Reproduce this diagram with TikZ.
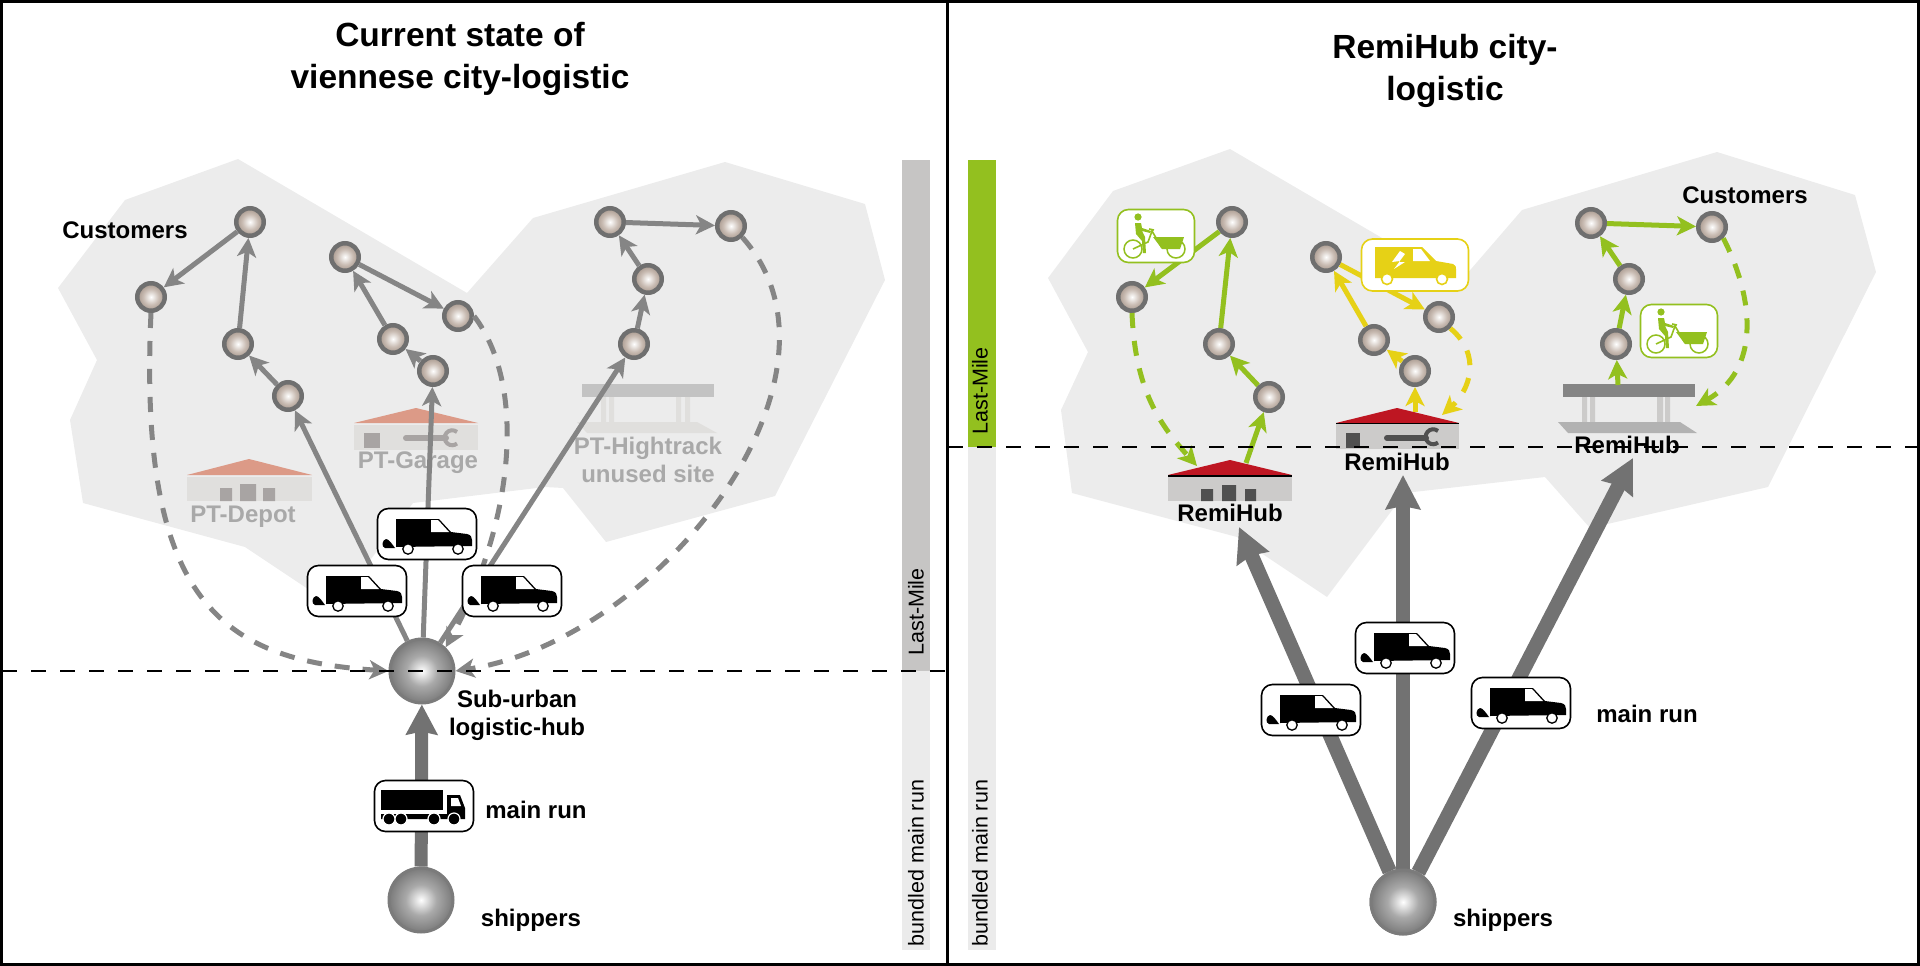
\documentclass[tikz,border=0pt]{standalone}
\usepackage{fontspec}
\setmainfont{Liberation Sans}
\usetikzlibrary{arrows.meta}
\definecolor{ballgrey}{HTML}{7B7B7B}
\definecolor{custtan}{HTML}{B8A79B}
\definecolor{ringgrey}{HTML}{6F6F6F}
\definecolor{arrowgrey}{HTML}{858585}
\definecolor{mainrun}{HTML}{727272}
\definecolor{blobgrey}{HTML}{ECECEC}
\definecolor{barlight}{HTML}{EBEBEB}
\definecolor{bardark}{HTML}{C6C5C4}
\definecolor{remigreen}{HTML}{93C01F}
\definecolor{remiyellow}{HTML}{E6D116}
\definecolor{roofred}{HTML}{BE1622}
\definecolor{rooffade}{HTML}{DC9A87}
\definecolor{wallfade}{HTML}{E0DFDD}
\definecolor{itemfade}{HTML}{A8A4A3}
\definecolor{textfade}{HTML}{A9A9A9}
\definecolor{wallgrey}{HTML}{CCCBCA}
\definecolor{itemgrey}{HTML}{505050}
\pgfdeclareradialshading{hubshade}{\pgfpoint{0bp}{0bp}}{color(0bp)=(white); color(12bp)=(ballgrey!65!white); color(25bp)=(ballgrey); color(50bp)=(ballgrey)}
\pgfdeclareradialshading{custshade}{\pgfpoint{0bp}{0bp}}{color(0bp)=(white); color(14bp)=(custtan!75!white); color(25bp)=(custtan!90!black); color(50bp)=(custtan)}
\tikzset{
  hub/.style={circle, minimum size=64pt, inner sep=0pt, shading=hubshade, draw=ballgrey, line width=3pt},
  cust/.style={circle, minimum size=27.5pt, inner sep=0pt, shading=custshade, draw=ringgrey, line width=4.5pt},
  label/.style={font=\fontsize{24}{28}\selectfont\bfseries, align=center, inner sep=0pt},
  fadelabel/.style={label, text=textfade},
  titlelabel/.style={font=\fontsize{33.5}{41.5}\selectfont\bfseries, align=center, inner sep=0pt},
  barlabel/.style={font=\fontsize{21.5}{24}\selectfont, rotate=90, inner sep=0pt},
  iconbox/.style={draw=black, fill=white, rounded corners=11pt, line width=1.6pt, minimum width=99pt, minimum height=51pt, inner sep=0pt},
  thin arrow/.style={-{Stealth[length=19pt,width=19pt,inset=5pt]}, line width=5pt, color=#1},
  route/.style={-{Stealth[length=19pt,width=19pt,inset=5pt]}, line width=5pt, dash pattern=on 15pt off 13pt, color=#1},
  big arrow/.style={-{Stealth[length=34pt,width=34pt,inset=3pt]}, line width=14.5pt, color=mainrun},
  cut/.style={line width=2.2pt, dash pattern=on 15pt off 14pt},
  pics/vanicon/.style={code={
    \fill (-31,-15) -- (12,-15) -- (24,-2) -- (40,0) .. controls (44,1) and (45,3) .. (45,6) -- (45,12) -- (-31,13) -- cycle;
    \fill[white] (4,-14) -- (11,-14) -- (22,-2) -- (4,-2) -- cycle;
    \fill (-32,14) -- (-42,14) .. controls (-46,13) and (-45,6) .. (-41,5) .. controls (-38,5) and (-35,10) .. cycle;
    \draw[fill=white, line width=1.3pt] (-19,15) circle (5.2pt) (31,15) circle (5.2pt);
  }},
  pics/truckicon/.style={code={
    \fill (-43,-16) rectangle (19,4);
    \fill (23,-11) -- (36,-11) -- (41,2) -- (41,13) -- (-43,13) -- (-43,8) -- (23,8) -- cycle;
    \fill[white] (27,-8) -- (34,-8) -- (37,0) -- (27,0) -- cycle;
    \draw[fill=black, line width=1.2pt, draw=white] (-35,13) circle (6pt) (-23,13) circle (6pt) (10,13) circle (6pt) (30,13) circle (6pt);
  }},
  pics/bikeicon/.style={code={
    \fill (-18,-19) circle (3.6pt);
    \fill (-21,-13) -- (-15,-13) -- (-14,-8) -- (-5,-5) -- (-6,-3) -- (-14,-5) -- (-11,1) -- (-10,17) -- (-13,17) -- (-14,5) -- (-20,-2) -- cycle;
    \draw[line width=1.5pt, draw=.] (-23,13) circle (9pt) (20,13) circle (9pt);
    \fill (-3,1) -- (28,1) -- (24,13) -- (6,13) -- cycle;
    \draw[line width=1.6pt] (-23,13) -- (-8,6) -- (-4,-5) -- (6,12) (-7,-7) -- (-2,-6);
  }},
  pics/evanicon/.style={code={
    \fill (-40,-18) -- (7,-18) -- (21,-4) -- (38,-1) .. controls (41,0) and (41,2) .. (41,4) -- (41,13) -- (-40,13) -- cycle;
    \fill[white] (-2,-16) -- (6,-16) -- (15,-4) -- (-2,-4) -- cycle;
    \fill[white] (-15,-14) -- (-23,-3) -- (-15,-4) -- (-21,4) -- (-10,-3) -- (-16,-3) -- (-10,-11) -- cycle;
    \draw[fill=white, line width=1.6pt, draw=.] (-28,14) circle (5.5pt) (27,14) circle (5.5pt);
  }}
}
\begin{document}
\begin{tikzpicture}[x=1pt, y=-1pt]
  \useasboundingbox (0,0) rectangle (1920,966);

  \fill[blobgrey] (238,159) -- (125,200) -- (58,288) -- (97,360) -- (70,420) -- (83,503) -- (245,547) -- (335,607) -- (413,503) -- (545,487) -- (563,488) -- (606,542) -- (775,496) -- (885,280) -- (865,204) -- (725,162) -- (533,218) -- (467,293) -- cycle;
  \fill[blobgrey] (1230,149) -- (1113,191) -- (1048,278) -- (1088,352) -- (1061,410) -- (1072,493) -- (1237,537) -- (1327,597) -- (1405,493) -- (1545,477) -- (1590,528) -- (1768,487) -- (1876,272) -- (1855,195) -- (1717,152) -- (1522,210) -- (1459,283) -- cycle;

  \fill[bardark] (902,160) rectangle (930,671);
  \fill[barlight] (902,671) rectangle (930,950);
  \fill[remigreen] (968,160) rectangle (996,447);
  \fill[barlight] (968,447) rectangle (996,950);
  \node[barlabel] (lastL) at (916,612) {Last-Mile};
  \node[barlabel] (bundL) at (916,863) {bundled main run};
  \node[barlabel] (lastR) at (980,391) {Last-Mile};
  \node[barlabel] (bundR) at (980,863) {bundled main run};

  \node[titlelabel] (titleL) at (460,59) {Current state of\\viennese city-logistic};
  \node[titlelabel] (titleR) at (1445,71) {RemiHub city-\\logistic};

  \fill[wallfade] (187,477) rectangle (312,501);
  \fill[rooffade] (187,475) -- (249,459) -- (312,475) -- cycle;
  \fill[itemfade] (220,488) rectangle (232,501) (240,484) rectangle (256,501) (263,488) rectangle (275,501);
  \node[fadelabel] (depotL) at (243,517) {PT-Depot};

  \fill[wallfade] (354,425) rectangle (478,450);
  \fill[rooffade] (354,423) -- (416,408) -- (478,423) -- cycle;
  \fill[itemfade] (364,433) rectangle (380,448);
  \draw[itemfade, line width=6pt, line cap=round] (406,438) -- (446,438);
  \draw[itemfade, line width=4pt] (457,432) arc (50:310:7.5pt);
  \node[fadelabel] (garageL) at (418,463) {PT-Garage};

  \fill[textfade!70!white] (582,384) rectangle (714,397);
  \fill[wallfade] (601,397) rectangle (606,422) (609,397) rectangle (614,422) (676,397) rectangle (681,422) (685,397) rectangle (690,422);
  \fill[wallfade] (577,422) -- (697,422) -- (717,433) -- (587,433) -- cycle;
  \node[fadelabel] (siteL) at (648,460) {PT-Hightrack\\unused site};

  \fill[wallgrey] (1168,477) rectangle (1292,501);
  \fill[roofred] (1168,475) -- (1230,460) -- (1292,475) -- cycle;
  \draw[black, line width=1.4pt] (1168,476) -- (1292,476);
  \fill[itemgrey] (1201,489) rectangle (1213,501) (1222,485) rectangle (1236,501) (1245,489) rectangle (1256,501);
  \node[label] (hubA) at (1230,513) {RemiHub};

  \fill[wallgrey] (1336,424) rectangle (1459,449);
  \fill[roofred] (1336,423) -- (1397,408) -- (1459,423) -- cycle;
  \draw[black, line width=1.4pt] (1336,423.5) -- (1459,423.5);
  \fill[itemgrey] (1346,433) rectangle (1360,448);
  \draw[itemgrey, line width=6pt, line cap=round] (1387,438) -- (1426,438);
  \draw[itemgrey, line width=4pt] (1438,431) arc (50:310:7.5pt);
  \node[label] (hubB) at (1397,462) {RemiHub};

  \fill[arrowgrey] (1563,384) rectangle (1695,397);
  \fill[wallgrey] (1582,397) rectangle (1587,427) (1590,397) rectangle (1595,427) (1657,397) rectangle (1663,427) (1665,397) rectangle (1670,427);
  \fill[gray!60] (1558,422) -- (1680,422) -- (1697,433) -- (1568,433) -- cycle;
  \node[label] (hubC) at (1627,445) {RemiHub};

  \node[hub] (hub) at (422,671) {};
  \node[hub] (shipL) at (421,900) {};
  \node[cust] (c1) at (250,222) {};
  \node[cust] (c2) at (151,297) {};
  \node[cust] (c3) at (238,344) {};
  \node[cust] (c4) at (288,396) {};
  \node[cust] (c5) at (345,257) {};
  \node[cust] (c6) at (458,316) {};
  \node[cust] (c7) at (393,339) {};
  \node[cust] (c8) at (433,371) {};
  \node[cust] (c9) at (634,344) {};
  \node[cust] (c10) at (648,279) {};
  \node[cust] (c11) at (610,222) {};
  \node[cust] (c12) at (731,226) {};

  \draw[thin arrow=arrowgrey] (c1) -- (c2);
  \draw[thin arrow=arrowgrey] (c3) -- (c1);
  \draw[thin arrow=arrowgrey] (c4) -- (c3);
  \draw[thin arrow=arrowgrey] (c5) -- (c6);
  \draw[thin arrow=arrowgrey] (c7) -- (c5);
  \draw[thin arrow=arrowgrey] (c8) -- (c7);
  \draw[thin arrow=arrowgrey] (c9) -- (c10);
  \draw[thin arrow=arrowgrey] (c10) -- (c11);
  \draw[thin arrow=arrowgrey] (c11) -- (c12);
  \draw[thin arrow=arrowgrey] (hub) -- (c4);
  \draw[thin arrow=arrowgrey] (hub) -- (c8);
  \draw[thin arrow=arrowgrey] (hub) -- (c9);
  \draw[route=arrowgrey] (c2.south) .. controls (138,600) and (220,660) .. (hub.west);
  \draw[route=arrowgrey] (c6.east) .. controls (530,390) and (510,530) .. (hub.north east);
  \draw[route=arrowgrey] (c12.south east) .. controls (865,375) and (660,640) .. (hub.east);
  \draw[big arrow, -{Stealth[length=30pt,width=31pt,inset=3pt]}, line width=13pt] (shipL) -- (hub);

  \node[iconbox] (vanA) at (357,591) {};
  \pic at (vanA) {vanicon};
  \node[iconbox] (vanB) at (427,534) {};
  \pic at (vanB) {vanicon};
  \node[iconbox] (vanC) at (512,591) {};
  \pic at (vanC) {vanicon};
  \node[iconbox] (truck) at (424,806) {};
  \pic at (truck) {truckicon};

  \node[label] (custL) at (125,230) {Customers};
  \node[label] (subhub) at (517,715) {Sub-urban\\logistic-hub};
  \node[label] (runL) at (536,810) {main run};
  \node[label] (shipperL) at (531,920) {shippers};

  \node[hub] (shipR) at (1403,902) {};
  \node[cust] (r1) at (1232,222) {};
  \node[cust] (r2) at (1132,297) {};
  \node[cust] (r3) at (1219,344) {};
  \node[cust] (r4) at (1269,397) {};
  \node[cust] (r5) at (1326,257) {};
  \node[cust] (r6) at (1439,317) {};
  \node[cust] (r7) at (1374,340) {};
  \node[cust] (r8) at (1415,371) {};
  \node[cust] (r9) at (1616,344) {};
  \node[cust] (r10) at (1629,279) {};
  \node[cust] (r11) at (1591,223) {};
  \node[cust] (r12) at (1712,227) {};
  \coordinate (roofA) at (1246,463);
  \coordinate (tipA) at (1197,466);
  \coordinate (roofB) at (1415,412);
  \coordinate (tipB) at (1442,415);
  \coordinate (roofC) at (1618,385);
  \coordinate (tipC) at (1696,406);

  \draw[thin arrow=remigreen] (roofA) -- (r4);
  \draw[thin arrow=remigreen] (r4) -- (r3);
  \draw[thin arrow=remigreen] (r3) -- (r1);
  \draw[thin arrow=remigreen] (r1) -- (r2);
  \draw[route=remigreen] (r2.south) .. controls (1135,390) and (1160,425) .. (tipA);
  \draw[thin arrow=remiyellow] (roofB) -- (r8);
  \draw[thin arrow=remiyellow] (r8) -- (r7);
  \draw[thin arrow=remiyellow] (r7) -- (r5);
  \draw[thin arrow=remiyellow] (r5) -- (r6);
  \draw[route=remiyellow] (r6.south east) .. controls (1482,355) and (1470,390) .. (tipB);
  \draw[thin arrow=remigreen] (roofC) -- (r9);
  \draw[thin arrow=remigreen] (r9) -- (r10);
  \draw[thin arrow=remigreen] (r10) -- (r11);
  \draw[thin arrow=remigreen] (r11) -- (r12);
  \draw[route=remigreen] (r12.south east) .. controls (1755,300) and (1760,370) .. (tipC);

  \coordinate (arrA) at (1239,527);
  \coordinate (arrB) at (1403,475);
  \coordinate (arrC) at (1633,458);
  \draw[big arrow] (shipR) -- (arrA);
  \draw[big arrow] (shipR) -- (arrB);
  \draw[big arrow] (shipR) -- (arrC);
  \node[hub] (shipRtop) at (shipR) {};

  \node[iconbox] (vanD) at (1311,710) {};
  \pic at (vanD) {vanicon};
  \node[iconbox] (vanE) at (1405,648) {};
  \pic at (vanE) {vanicon};
  \node[iconbox] (vanF) at (1521,703) {};
  \pic at (vanF) {vanicon};

  \node[iconbox, draw=remigreen, minimum width=77pt, minimum height=53pt] (bikeA) at (1156,236) {};
  \pic[remigreen] at (bikeA) {bikeicon};
  \node[iconbox, draw=remigreen, minimum width=77pt, minimum height=53pt] (bikeB) at (1679,331) {};
  \pic[remigreen] at (bikeB) {bikeicon};
  \node[iconbox, draw=remiyellow, minimum width=107pt, minimum height=52pt] (evan) at (1415,265) {};
  \pic[remiyellow] at (evan) {evanicon};

  \node[label] (custR) at (1745,195) {Customers};
  \node[label] (runR) at (1647,714) {main run};
  \node[label] (shipperR) at (1503,920) {shippers};

  \coordinate (cutA) at (2,671);
  \coordinate (cutB) at (947,671);
  \coordinate (cutC) at (948,447);
  \coordinate (cutD) at (1917,447);
  \draw[cut] (cutA) -- (cutB);
  \draw[cut] (cutC) -- (cutD);
  \coordinate (frameA) at (1.5,1.5);
  \coordinate (frameB) at (1918,964);
  \draw[line width=3pt] (frameA) rectangle (frameB);
  \draw[line width=3pt] (947.5,0) -- (947.5,966);
\end{tikzpicture}
\end{document}
